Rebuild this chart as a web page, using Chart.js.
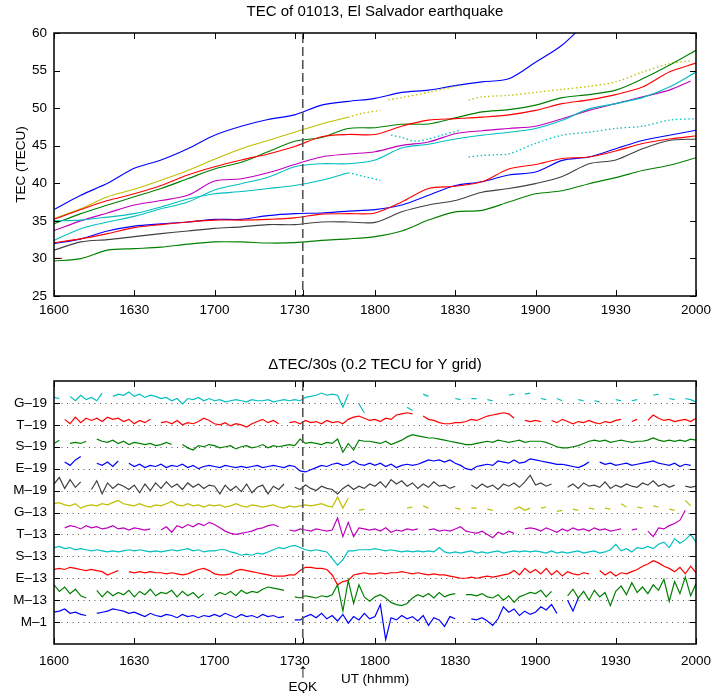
<!DOCTYPE html>
<html><head><meta charset="utf-8">
<script src="https://cdn.jsdelivr.net/npm/chart.js@4.4.1/dist/chart.umd.min.js"></script>
<style>
html,body{margin:0;padding:0;background:#fff;width:714px;height:693px;overflow:hidden}
#c1{position:absolute;left:0;top:0}
#c2{position:absolute;left:0;top:345px}
</style></head><body>
<canvas id="c1" width="714" height="345"></canvas>
<canvas id="c2" width="714" height="348"></canvas>
<script>
const _ = null;
// ---- x axis: minutes after 16:00 UT ----
const tickMinutes = [0, 30, 60, 90, 120, 150, 180, 210, 240];
const tickLabels = ['1600', '1630', '1700', '1730', '1800', '1830', '1900', '1930', '2000'];
const eqkMinute = 93; // 17:33 UT

// ---- TOP: TEC (TECU) ----
const tFull = [0,10,20,30,40,50,60,70,80,90,100,110,120,130,140,150,160,170,180,190,200,210,220,230,240];
const tBlueHi = [0,10,20,30,40,50,60,70,80,90,100,110,120,130,140,150,160,170,180,190,200];
const tecBlueHi = [36.5,38.4,40.0,42.0,43.1,44.6,46.4,47.6,48.5,49.1,50.4,50.9,51.3,52.1,52.4,53.0,53.5,53.9,56.1,58.4,61.8];
const tYellowA = [0,10,20,30,40,50,60,70,80,90,100,110];
const tecYellowA = [35.3,36.6,38.2,39.2,40.4,41.7,43.2,44.6,45.7,46.8,47.9,48.8];
const tYellowB = [110,115,122];
const tecYellowB = [48.8,49.3,49.7];
const tYellowC = [125,130,140,150,152];
const tecYellowC = [51.1,51.4,52.1,52.9,53.0];
const tYellowD = [155,160,170,180,190,200,210,220,230,238];
const tecYellowD = [51.1,51.5,51.7,52.1,52.5,52.9,53.5,54.8,55.9,56.3];
const tecGreenHi = [34.6,35.96,37.1,38.2,39.3,40.6,41.9,42.8,44.2,45.6,46.1,47.3,47.4,47.85,47.9,48.7,49.5,49.8,50.4,51.4,51.8,52.4,53.9,55.7,57.7];
const tecRedHi = [35.2,36.5,37.7,38.6,39.7,41.1,42.2,43.1,43.9,44.9,46.2,46.5,46.5,47.6,48.4,48.6,48.8,49.1,49.7,50.6,51.1,51.8,52.8,54.8,56.0];
const tMagenta = [0,10,20,30,40,50,60,70,80,90,100,110,120,130,140,150,160,170,180,190,200,210,220,230,238];
const tecMagenta = [33.7,35.0,36.05,37.1,37.7,38.4,40.3,40.6,41.4,42.5,43.5,43.9,44.2,45.05,45.5,46.6,47.0,47.3,47.6,48.6,49.7,50.6,51.5,52.4,53.6];
const tecCyanB = [32.4,33.96,34.85,35.6,36.6,37.5,39.1,39.95,40.8,42.2,42.6,42.6,43.1,44.7,45.2,45.9,46.4,46.8,47.3,48.4,49.9,50.6,51.4,52.8,54.8];
const tCyanA = [0,10,20,30,40,50,60,70,80,90,100,110];
const tecCyanA = [35.0,35.1,35.5,35.96,36.85,37.9,38.6,38.9,39.3,39.7,40.4,41.4];
const tCyanAdot = [110,116,122];
const tecCyanAdot = [41.4,40.9,40.4];
const tCyanC = [126,130,135,140,145,152];
const tecCyanC = [46.4,46.1,45.6,45.9,46.4,47.1];
const tCyanD = [155,160,165,170,180,190,200,210,220,230,240];
const tecCyanD = [43.5,43.7,43.8,43.9,45.3,46.4,46.8,47.3,47.6,48.4,48.6];
const tecBlueLo = [31.96,32.6,33.65,34.3,34.6,34.85,35.2,35.2,35.7,35.96,36.05,36.3,36.5,37.1,38.4,39.7,40.2,41.1,41.5,43.05,43.5,44.6,45.7,46.4,47.05];
const tecRedLo = [32.1,32.6,33.3,34.1,34.5,34.85,35.1,35.1,35.2,35.4,35.9,35.96,36.05,37.5,39.3,39.6,40.2,41.9,42.5,43.3,43.5,44.3,45.3,45.9,46.3];
const tecGray = [31.1,32.2,32.5,32.9,33.3,33.65,34.0,34.2,34.5,34.5,34.85,34.85,34.8,36.2,37.1,37.7,38.8,39.3,39.95,40.9,42.6,43.1,44.6,45.7,45.9];
const tecGreenLo = [29.65,29.97,31.1,31.3,31.5,31.9,32.2,32.2,32.05,32.1,32.4,32.6,32.9,33.65,35.1,36.2,36.4,37.5,38.6,39.0,39.95,40.75,41.7,42.4,43.4];
const tRedStub = [0,3];
const tecRedStub = [30.0,30.0];

// ---- BOTTOM: dTEC/30s, units of 0.01 TECU, one sample per 2 minutes ----
const traceNames = ['M\u20131','M\u201313','E\u201313','S\u201313','T\u201313','G\u201313','M\u201319','E\u201319','S\u201319','T\u201319','G\u201319'];
const gridTECU = 0.2;
const dG19 = [5,4,_,6,2,7,3,5,2,9, _,6,8,7,10,6,8,5,7,6, 4,5,2,4,-1,4,3,5,2,4, 2,3,1,2,3,2,1,3,2,2, 3,1,2,3,2,3,2,5,6,7,
  9,7,8,7,-4,8,_,-1,-9,_, _,_,_,_,_,_,-4,-7,_,8, 6,_,_,_,_,4,3,_,4,4, _,3,2,_,_,7,8,_,8,9, _,4,3,_,4,2,_,_,3,2,
  _,2,1,_,_,3,2,_,2,3, _,_,7,8,_,4,3,_,4,3, 1];
const dT19 = [_,_,5,1,7,2,6,4,6,3, 7,5,6,3,5,1,4,2,5,_, 2,3,1,4,0,2,1,3,6,4, 1,0,2,-1,1,0,-2,1,3,5, 2,4,1,_,2,3,1,4,2,3,
  1,4,2,3,1,5,7,8,6,4, 5,3,6,5,9,10,11,10,_,8, 5,4,2,1,1,2,2,3,5,4, 6,8,9,10,11,10,6,_,4,3, 4,3,_,4,2,5,3,1,3,2,
  4,2,1,3,2,4,5,_,3,5, _,4,9,6,4,5,3,4,5,3, 6];
const dS19 = [3,6,_,3,4,3,5,_,7,5, 4,6,3,5,2,4,3,2,3,1, 2,4,2,_,2,-1,-3,1,0,2, 1,-1,0,1,-2,0,1,-1,0,2, -1,1,0,1,2,1,7,3,4,3,
  2,4,3,7,-5,3,-3,6,5,5, 4,3,5,2,4,6,9,11,10,9, 8,8,7,6,5,4,3,2,2,3, 4,5,4,6,5,4,5,6,4,5, 5,5,4,2,0,-1,-1,0,1,3,
  5,6,5,6,4,5,6,5,4,5, 5,6,8,6,5,6,5,6,5,7, 6];
const dE19 = [4,_,6,3,8,11,_,_,5,3, 6,2,7,_,5,2,4,1,3,2, 4,1,3,2,4,1,3,0,2,3, 2,1,3,2,1,2,1,2,3,1, 2,3,2,1,3,2,-2,-3,-1,1,
  3,2,4,5,3,4,7,4,3,5, 3,5,2,4,1,3,4,3,4,6, 8,7,8,6,8,5,3,0,-1,2, 3,4,3,7,6,5,8,5,6,9, 8,7,6,5,4,4,3,2,1,3,
  6,_,6,4,5,3,4,5,3,4, 5,6,7,5,4,3,5,2,4,3, _];
const dM19 = [6,12,2,10,3,8,_,1,9,-3, 7,2,6,4,1,5,-2,6,0,7, 2,8,3,6,1,7,3,6,2,5, 4,-3,5,0,4,-1,6,-2,3,5, -3,4,1,6,_,3,1,5,2,0,
  4,2,1,-3,2,5,1,4,2,6, 4,8,3,10,6,9,4,7,2,6, 3,8,4,5,2,4,_,_,5,2, 6,3,5,1,6,4,7,3,8,14, 5,7,4,6,_,_,3,6,2,7,
  4,5,3,8,2,5,3,6,4,3, 7,5,9,4,6,3,5,_,4,3, 4];
const dG13 = [8,9,7,6,8,4,6,7,6,8, 7,9,11,8,7,6,8,6,5,7, 6,8,10,7,6,8,6,7,5,7, 6,7,5,6,8,6,5,7,6,5, 6,7,5,4,6,5,6,7,6,7,
  8,6,5,14,4,13,_,2,3,_, _,_,_,_,_,_,4,5,_,6, 4,_,_,_,_,4,3,_,4,4, _,3,2,_,_,_,3,5,2,4, _,4,5,_,1,2,_,3,2,_,
  4,3,_,4,3,_,8,5,_,5, 4,_,6,5,_,3,2,_,11,6, _];
const dT13 = [_,_,6,8,7,5,8,6,7,5, 6,8,5,6,4,6,5,4,5,_, 4,7,2,8,6,9,7,10,8,11, 9,6,3,1,0,1,2,3,5,6, 8,9,7,_,4,3,5,4,3,5,
  4,3,4,15,-2,11,-2,6,5,4, 5,3,6,2,4,3,5,4,5,_, 4,5,3,4,3,5,7,3,2,1, 3,0,-3,2,0,3,1,_,5,6, 5,3,6,4,2,5,3,6,4,5,
  3,6,4,5,3,4,5,_,4,5, _,3,-2,6,5,8,10,13,22,_, _];
const dS13 = [8,9,7,8,6,7,6,5,6,5, 4,5,4,5,6,5,6,5,4,5, 4,5,6,5,6,7,5,6,4,5, 5,6,6,4,3,1,2,1,3,2, 4,6,8,7,9,10,8,6,5,6,
  5,4,-2,-8,-3,5,5,6,6,6, 7,6,5,6,5,4,5,4,5,4, 5,4,8,4,3,4,3,4,5,3, 4,3,4,5,3,4,5,4,5,4, 5,4,3,5,3,4,3,4,5,3,
  4,5,3,4,6,11,5,7,4,8, 7,9,7,11,13,8,16,12,15,20, 13];
const dE13 = [8,9,8,10,9,8,7,8,7,6, 3,5,7,_,6,5,6,5,6,5, 5,4,5,4,3,4,6,8,9,7, 4,3,3,4,7,8,7,6,5,4, 3,2,2,2,3,3,7,10,10,9,
  9,8,3,-6,-3,-2,3,4,5,4, 4,5,4,5,5,6,5,4,5,4, 3,4,3,3,2,1,0,0,1,0, 1,2,1,2,3,4,7,3,9,5, 8,4,9,3,7,2,6,4,3,5,
  4,_,7,3,6,2,5,4,6,8, 11,13,16,14,11,9,6,10,4,11, 5];
const dM13 = [14,8,12,6,10,4,2,_,9,3, 8,4,7,5,9,3,8,5,10,4, 7,6,9,3,8,4,7,2,6,_, 4,7,5,8,4,9,6,8,7,10, 12,11,10,9,_,3,2,4,3,2,
  4,3,5,14,-10,18,-3,14,3,-1, 3,5,2,-2,-4,-5,-3,2,5,3, 6,2,7,3,5,6,_,5,5,4, 6,3,2,5,0,4,-2,3,5,7, 6,9,3,8,_,_,4,10,2,8,
  0,9,3,7,-5,8,13,5,16,7, 12,6,14,9,19,-1,17,6,21,4, 15];
const dM1 = [9,10,12,8,9,7,6,_,8,9, 10,12,11,10,8,9,7,5,8,6, 5,7,6,4,7,5,6,4,6,5, 7,5,8,6,4,7,5,6,4,7, 5,6,4,5,_,2,2,5,7,4,
  8,3,6,1,7,-1,5,2,8,3, 5,16,-16,4,2,6,3,5,1,6, -3,4,2,-4,5,3,_,_,3,2, 4,1,-3,3,14,9,12,6,10,7, 9,14,11,16,8,_,20,10,22,_,
  _,_,_,_,_,_,_,_,_,_, _,_,_,_,_,_,_,_,_,_, _];
const traces = [dM1, dM13, dE13, dS13, dT13, dG13, dM19, dE19, dS19, dT19, dG19];

const BLUE = '#0000ff', GREEN = '#008000', RED = '#ff0000', CYAN = '#00bfbf',
      MAG = '#bf00bf', YEL = '#bfbf00', GRAY = '#404040';
const traceColors = [BLUE, GREEN, RED, CYAN, MAG, YEL, GRAY, BLUE, GREEN, RED, CYAN];
const sampleMinutes = Array.from({length: 121}, (v, i) => 2 * i);

Chart.defaults.font.family = "'Liberation Sans', Arial, Helvetica, sans-serif";
Chart.defaults.font.size = 13.5;
Chart.defaults.color = '#000';

function pts(t, v) { return t.map((x, i) => ({x: x, y: v[i]})); }
function ds(t, v, color, dotted) {
  return {data: pts(t, v), borderColor: color, borderWidth: dotted ? 1.3 : 1.1, pointRadius: 0,
    tension: 0.3, borderDash: dotted ? [1.5, 2.5] : [], fill: false};
}

function framePlugin(opts) {
  return {
    id: 'frame',
    beforeDatasetsDraw(chart) {
      if (!opts.baselines) return;
      const {ctx, chartArea: a, scales: {y}} = chart;
      ctx.save();
      ctx.strokeStyle = '#555'; ctx.lineWidth = 1; ctx.setLineDash([1, 4.5]);
      y.ticks.forEach(t => {
        const py = Math.round(y.getPixelForValue(t.value)) + 0.5;
        ctx.beginPath(); ctx.moveTo(a.left + 2, py); ctx.lineTo(a.right, py); ctx.stroke();
      });
      ctx.restore();
    },
    afterDatasetsDraw(chart) {
      const {ctx, chartArea: a, scales: {x, y}} = chart;
      const seg = (x1, y1, x2, y2) => { ctx.beginPath(); ctx.moveTo(x1, y1); ctx.lineTo(x2, y2); ctx.stroke(); };
      ctx.save();
      const xe = x.getPixelForValue(eqkMinute);
      ctx.strokeStyle = '#555'; ctx.lineWidth = 1.6; ctx.setLineDash([9, 4]);
      seg(xe, a.top + 1, xe, a.bottom);
      ctx.setLineDash([]);
      ctx.strokeStyle = '#000'; ctx.lineWidth = 1;
      const L = 6;
      tickMinutes.concat([eqkMinute]).forEach(v => {
        const px = Math.round(x.getPixelForValue(v)) + 0.5;
        seg(px, a.bottom, px, a.bottom - L); seg(px, a.top, px, a.top + L);
      });
      y.ticks.forEach(t => {
        const py = Math.round(y.getPixelForValue(t.value)) + 0.5;
        seg(a.left, py, a.left + L, py); seg(a.right, py, a.right - L, py);
      });
      ctx.lineWidth = 1.5;
      ctx.strokeRect(a.left, a.top, a.right - a.left, a.bottom - a.top);
      if (opts.eqkLabel) {
        ctx.fillStyle = '#000';
        ctx.textAlign = 'center'; ctx.textBaseline = 'middle';
        ctx.font = "20px 'Liberation Sans', Arial, sans-serif";
        ctx.fillText('\u2191', xe, a.bottom + 27);
        ctx.font = "13.5px 'Liberation Sans', Arial, sans-serif";
        ctx.fillText('EQK', xe, a.bottom + 43);
      }
      ctx.restore();
    }
  };
}

function xScale(height, withTitle, pad) {
  return {
    type: 'linear', min: 0, max: 240,
    grid: {display: false, drawTicks: false}, border: {display: false},
    afterBuildTicks(s) { s.ticks = tickMinutes.map(v => ({value: v})); },
    ticks: {autoSkip: false, maxRotation: 0, padding: pad,
      callback: v => tickLabels[tickMinutes.indexOf(v)]},
    title: withTitle ? {display: true, text: 'UT (hhmm)', font: {size: 13.5}, padding: {top: 0, bottom: 6}} : {display: false},
    afterFit(s) { s.height = height; s.paddingLeft = 0; s.paddingRight = 0; }
  };
}

// ---- TOP chart ----
new Chart(document.getElementById('c1'), {
  type: 'line',
  data: {datasets: [
    ds(tFull, tecGreenLo, GREEN), ds(tRedStub, tecRedStub, RED), ds(tFull, tecGray, GRAY),
    ds(tFull, tecRedLo, RED), ds(tFull, tecBlueLo, BLUE),
    ds(tCyanA, tecCyanA, CYAN), ds(tCyanAdot, tecCyanAdot, CYAN, true),
    ds(tCyanC, tecCyanC, CYAN, true), ds(tCyanD, tecCyanD, CYAN, true),
    ds(tFull, tecCyanB, CYAN), ds(tMagenta, tecMagenta, MAG),
    ds(tFull, tecRedHi, RED), ds(tFull, tecGreenHi, GREEN),
    ds(tYellowA, tecYellowA, YEL), ds(tYellowB, tecYellowB, YEL, true),
    ds(tYellowC, tecYellowC, YEL, true), ds(tYellowD, tecYellowD, YEL, true),
    ds(tBlueHi, tecBlueHi, BLUE)
  ]},
  options: {
    responsive: false, animation: false, devicePixelRatio: 1,
    layout: {padding: {left: 0, right: 18, top: 0, bottom: 0}},
    plugins: {legend: {display: false}, tooltip: {enabled: false},
      title: {display: true, fullSize: false, text: 'TEC of 01013, El Salvador earthquake',
        font: {size: 15, weight: 'normal'}, padding: {top: 3, bottom: 12}}},
    scales: {
      x: xScale(49, false, 6),
      y: {type: 'linear', min: 25, max: 60,
        grid: {display: false, drawTicks: false}, border: {display: false},
        ticks: {stepSize: 5, padding: 7},
        title: {display: true, text: 'TEC (TECU)', font: {size: 13.5}, padding: {top: 13, bottom: 0}},
        afterFit(s) { s.width = 54; s.paddingTop = 0; s.paddingBottom = 0; }}
    }
  },
  plugins: [framePlugin({baselines: false, eqkLabel: false})]
});

// ---- BOTTOM chart ----
new Chart(document.getElementById('c2'), {
  type: 'line',
  data: {datasets: traces.map((arr, k) => ({
    data: arr.map((v, i) => ({x: sampleMinutes[i], y: v === null ? null : k + v * 0.01 / gridTECU})),
    borderColor: traceColors[k], borderWidth: 1.2, pointRadius: 0, tension: 0, fill: false
  }))},
  options: {
    responsive: false, animation: false, devicePixelRatio: 1,
    layout: {padding: {left: 0, right: 18, top: 0, bottom: 0}},
    plugins: {legend: {display: false}, tooltip: {enabled: false},
      title: {display: true, fullSize: false, text: '\u0394TEC/30s (0.2 TECU for Y grid)',
        font: {size: 15, weight: 'normal'}, padding: {top: 11, bottom: 7}}},
    scales: {
      x: xScale(49, true, 9),
      y: {type: 'linear', min: -1, max: 11,
        grid: {display: false, drawTicks: false}, border: {display: false},
        afterBuildTicks(s) { s.ticks = traceNames.map((n, i) => ({value: i})); },
        ticks: {autoSkip: false, padding: 7, callback: v => traceNames[v]},
        afterFit(s) { s.width = 54; s.paddingTop = 0; s.paddingBottom = 0; }}
    }
  },
  plugins: [framePlugin({baselines: true, eqkLabel: true})]
});
</script>
</body></html>
